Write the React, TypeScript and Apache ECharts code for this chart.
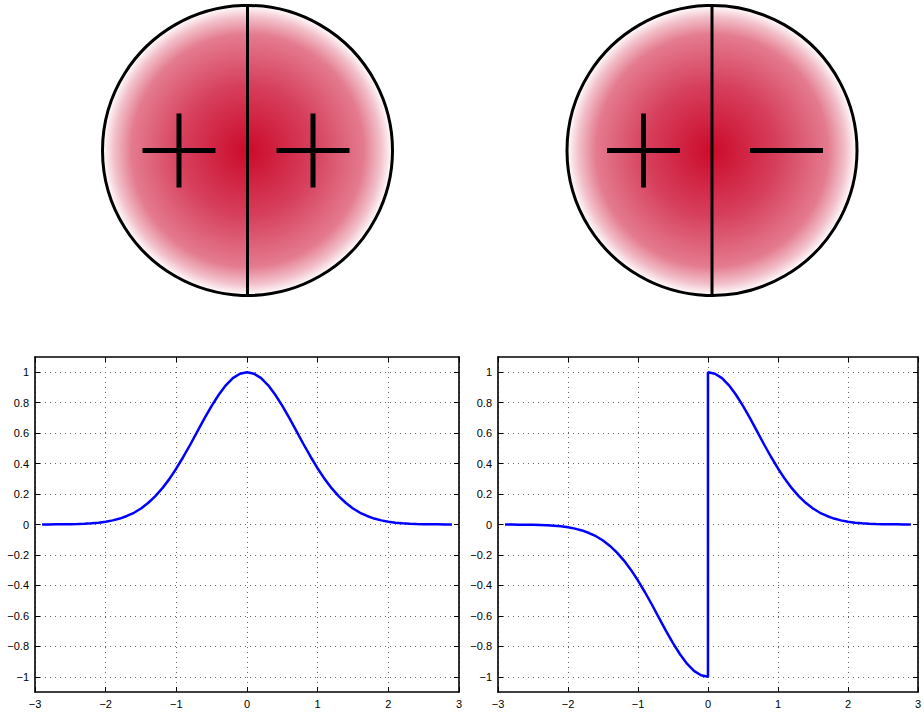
import React, { useEffect, useRef } from "react";
import * as echarts from "echarts";

// x samples (shared by both plots)
const xsLeft: number[] = [
  -2.9, -2.8, -2.7, -2.6, -2.5, -2.4, -2.3, -2.2, -2.1, -2.0,
  -1.9, -1.8, -1.7, -1.6, -1.5, -1.4, -1.3, -1.2, -1.1, -1.0,
  -0.9, -0.8, -0.7, -0.6, -0.5, -0.4, -0.3, -0.2, -0.1, 0,
  0.1, 0.2, 0.3, 0.4, 0.5, 0.6, 0.7, 0.8, 0.9, 1.0,
  1.1, 1.2, 1.3, 1.4, 1.5, 1.6, 1.7, 1.8, 1.9, 2.0,
  2.1, 2.2, 2.3, 2.4, 2.5, 2.6, 2.7, 2.8, 2.9,
];
const evenValues: number[] = [
  0.000, 0.000, 0.001, 0.001, 0.002, 0.003, 0.005, 0.008, 0.012, 0.018,
  0.027, 0.039, 0.056, 0.077, 0.105, 0.141, 0.185, 0.237, 0.298, 0.368,
  0.445, 0.527, 0.613, 0.698, 0.779, 0.852, 0.914, 0.961, 0.990, 1.000,
  0.990, 0.961, 0.914, 0.852, 0.779, 0.698, 0.613, 0.527, 0.445, 0.368,
  0.298, 0.237, 0.185, 0.141, 0.105, 0.077, 0.056, 0.039, 0.027, 0.018,
  0.012, 0.008, 0.005, 0.003, 0.002, 0.001, 0.001, 0.000, 0.000,
];
const xsRight: number[] = [
  -2.9, -2.8, -2.7, -2.6, -2.5, -2.4, -2.3, -2.2, -2.1, -2.0,
  -1.9, -1.8, -1.7, -1.6, -1.5, -1.4, -1.3, -1.2, -1.1, -1.0,
  -0.9, -0.8, -0.7, -0.6, -0.5, -0.4, -0.3, -0.2, -0.1, 0, 0,
  0.1, 0.2, 0.3, 0.4, 0.5, 0.6, 0.7, 0.8, 0.9, 1.0,
  1.1, 1.2, 1.3, 1.4, 1.5, 1.6, 1.7, 1.8, 1.9, 2.0,
  2.1, 2.2, 2.3, 2.4, 2.5, 2.6, 2.7, 2.8, 2.9,
];
const oddValues: number[] = [
  -0.000, -0.000, -0.001, -0.001, -0.002, -0.003, -0.005, -0.008, -0.012, -0.018,
  -0.027, -0.039, -0.056, -0.077, -0.105, -0.141, -0.185, -0.237, -0.298, -0.368,
  -0.445, -0.527, -0.613, -0.698, -0.779, -0.852, -0.914, -0.961, -0.990, -1.000, 1.000,
  0.990, 0.961, 0.914, 0.852, 0.779, 0.698, 0.613, 0.527, 0.445, 0.368,
  0.298, 0.237, 0.185, 0.141, 0.105, 0.077, 0.056, 0.039, 0.027, 0.018,
  0.012, 0.008, 0.005, 0.003, 0.002, 0.001, 0.001, 0.000, 0.000,
];
const yTicks: number[] = [-1, -0.8, -0.6, -0.4, -0.2, 0, 0.2, 0.4, 0.6, 0.8, 1];
const leftSigns: string[] = ["+", "+"];
const rightSigns: string[] = ["+", "-"];

const FONT = "Liberation Sans";
const fmt = (v: number) => (v < 0 ? "\u2212" + String(Math.abs(v)) : String(v));

function makeAxes(gridIndex: number) {
  const frame = { show: true, onZero: false, lineStyle: { color: "#000", width: 1.6 } };
  const tick = { show: true, inside: true, length: 5, lineStyle: { color: "#000", width: 1 } };
  const split = { show: true, lineStyle: { color: "#666", width: 1, type: [1, 4] as any } };
  const xAxes = [
    {
      type: "value", gridIndex, position: "bottom", min: -3, max: 3, interval: 1,
      axisLine: frame, axisTick: tick, splitLine: split,
      axisLabel: { show: true, formatter: fmt, color: "#000", fontFamily: FONT, fontSize: 11, margin: 6 },
    },
    {
      type: "value", gridIndex, position: "top", min: -3, max: 3, interval: 1,
      axisLine: frame, axisTick: tick, splitLine: { show: false }, axisLabel: { show: false },
    },
  ];
  const yAxes = [
    {
      type: "value", gridIndex, position: "left", min: -1.1, max: 1.1,
      axisLine: frame,
      axisTick: { ...tick, customValues: yTicks },
      splitLine: split,
      axisLabel: { show: true, customValues: yTicks, formatter: fmt, color: "#000", fontFamily: FONT, fontSize: 11, margin: 6 },
    },
    {
      type: "value", gridIndex, position: "right", min: -1.1, max: 1.1,
      axisLine: frame,
      axisTick: { ...tick, customValues: yTicks },
      splitLine: { show: false },
      axisLabel: { show: false, customValues: yTicks },
    },
  ];
  return { xAxes, yAxes };
}

function orbital(cx: number, signs: string[], offsets: number[]) {
  const cy = 150.5;
  const r = 145;
  const grad = new echarts.graphic.RadialGradient(0.5, 0.5, 0.5, [
    { offset: 0, color: "#cc0a2b" },
    { offset: 0.45, color: "#d63f5c" },
    { offset: 0.8, color: "#e47b8f" },
    { offset: 0.92, color: "#f2c0ca" },
    { offset: 1, color: "#ffffff" },
  ]);
  const els: any[] = [
    { type: "circle", shape: { cx, cy, r }, style: { fill: grad, stroke: "#000", lineWidth: 3 } },
    { type: "line", shape: { x1: cx, y1: cy - r, x2: cx, y2: cy + r }, style: { stroke: "#000", lineWidth: 3 } },
  ];
  signs.forEach((s, i) => {
    const sx = cx + offsets[i];
    els.push({ type: "line", shape: { x1: sx - 36.5, y1: cy, x2: sx + 36.5, y2: cy }, style: { stroke: "#000", lineWidth: 5 } });
    if (s === "+") {
      els.push({ type: "line", shape: { x1: sx, y1: cy - 37, x2: sx, y2: cy + 37 }, style: { stroke: "#000", lineWidth: 5 } });
    }
  });
  return els;
}

export default function App() {
  const ref = useRef<HTMLDivElement>(null);
  useEffect(() => {
    if (!ref.current) return;
    const chart = echarts.init(ref.current, undefined, { renderer: "svg" });
    const a0 = makeAxes(0);
    const a1 = makeAxes(1);
    chart.setOption({
      animation: false,
      backgroundColor: "#fff",
      grid: [
        { left: 35, top: 357, width: 424, height: 335 },
        { left: 498, top: 357, width: 424, height: 335 },
      ],
      xAxis: [...a0.xAxes, ...a1.xAxes],
      yAxis: [...a0.yAxes, ...a1.yAxes],
      series: [
        {
          type: "line", xAxisIndex: 0, yAxisIndex: 0, showSymbol: false, smooth: false,
          data: xsLeft.map((x, i) => [x, evenValues[i]]),
          lineStyle: { color: "#0000ff", width: 2.5 },
        },
        {
          type: "line", xAxisIndex: 2, yAxisIndex: 2, showSymbol: false, smooth: false,
          data: xsRight.map((x, i) => [x, oddValues[i]]),
          lineStyle: { color: "#0000ff", width: 2.5 },
        },
      ],
      graphic: [
        ...orbital(247.5, leftSigns, [-68.5, 65.5]),
        ...orbital(712, rightSigns, [-68.5, 74.5]),
      ],
    });
    return () => chart.dispose();
  }, []);
  return (
    <div
      ref={ref}
      style={{ position: "fixed", left: 0, top: 0, width: 924, height: 716 }}
    />
  );
}
